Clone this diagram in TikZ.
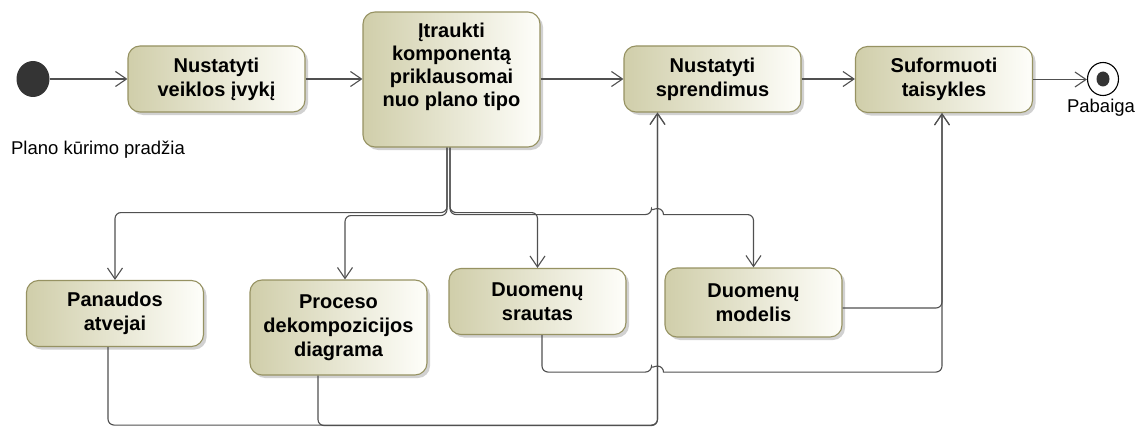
\documentclass[tikz,border=0pt]{standalone}
\usepackage{fontspec}
\setmainfont{Liberation Sans}
\usetikzlibrary{arrows.meta,shapes.geometric,shadows,calc}

\definecolor{boxL}{RGB}{208,206,170}
\definecolor{boxR}{RGB}{254,254,250}
\definecolor{boxline}{RGB}{150,146,98}
\definecolor{flowc}{RGB}{80,80,80}
\definecolor{dotc}{RGB}{52,52,52}

\tikzset{
  actbox/.style={rectangle, rounded corners=12pt, draw=boxline, line width=1.1pt,
    left color=boxL, right color=boxR, minimum width=177pt, minimum height=66pt,
    inner sep=0pt, align=center, font=\fontsize{20}{24}\selectfont\bfseries,
    drop shadow={shadow xshift=3pt, shadow yshift=-3pt, fill=black!30, opacity=0.6}},
  flow/.style={draw=flowc, line width=1.1pt, rounded corners=6pt,
    -{Straight Barb[length=11pt,width=15pt,line width=1.1pt]}},
  lbl/.style={font=\fontsize{18.5}{22}\selectfont, inner sep=0pt},
  startnode/.style={ellipse, fill=dotc, minimum width=33pt, minimum height=36pt, inner sep=0pt},
  endnode/.style={ellipse, draw=black, line width=1.1pt, fill=white,
    minimum width=31pt, minimum height=33pt, inner sep=0pt,
    path picture={\fill[dotc] (path picture bounding box.center) ellipse[x radius=6.5pt,y radius=7.5pt];}},
}

\begin{document}
\begin{tikzpicture}[x=1pt,y=-1pt]
\useasboundingbox (0,0) rectangle (1144,428);

% top row
\node[startnode] (st) at (33,79) {};
\node[lbl] (stl) at (98,150) {Plano kūrimo pradžia};
\node[actbox] (b1) at (216.5,79) {Nustatyti\\veiklos įvykį};
\node[actbox, minimum height=135pt, font=\fontsize{20}{23}\selectfont\bfseries] (b2) at (451.5,79.5)
  {Įtraukti\\komponentą\\priklausomai\\nuo plano tipo\\[6pt]\mbox{}};
\node[actbox] (b3) at (712.5,79) {Nustatyti\\sprendimus};
\node[actbox] (b4) at (944,79.5) {Suformuoti\\taisykles};
\node[endnode] (en) at (1103,79) {};
\node[lbl] (enl) at (1101,108) {Pabaiga};

% bottom row
\node[actbox] (pan) at (115,313.5) {Panaudos\\atvejai};
\node[actbox, minimum height=95pt] (proc) at (338.5,327.5) {Proceso\\dekompozicijos\\diagrama};
\node[actbox] (sr) at (537.5,301.5) {Duomenų\\srautas};
\node[actbox, minimum height=69pt] (mod) at (753.5,302.5) {Duomenų\\modelis};

% joins under the target actions
\coordinate (j3) at ([xshift=-55pt]b3.south);
\coordinate (j4) at ([xshift=-2pt]b4.south);

% main sequence
\draw[flow] (st) -- (b1);
\draw[flow] (b1.east) -- (b1.east -| b2.west);
\draw[flow] (b3.west -| b2.east) -- (b3.west);
\draw[flow] (b3.east) -- (b3.east -| b4.west);
\draw[flow] (b4.east) -- (b4.east -| en.west);

% fork from the component step
\draw[flow] ([xshift=-4.5pt]b2.south) -- ++(0,65) -| (pan.north);
\draw[flow] ([xshift=-4.5pt]b2.south) -- ++(0,68) -| ([xshift=6.5pt]proc.north);
\draw[flow] ([xshift=-1.5pt]b2.south) -- ++(0,65) -| (sr.north);
\draw[flow] ([xshift=-1.5pt]b2.south) -- ++(0,67) coordinate (m1)
  -- ($(j3 |- m1)+(-6,0)$) [sharp corners] arc[start angle=180,end angle=0,radius=6pt]
  [rounded corners=6pt] -| (mod.north);

% results feeding the decision and rule steps
\draw[flow] ([xshift=-7pt]pan.south) -- ++(0,78) -| (j3);
\draw[flow] ([xshift=-20.5pt]proc.south) -- ++(0,50) -| (j3);
\draw[flow] ([xshift=4.5pt]sr.south) -- ++(0,37) coordinate (s1)
  -- ($(j3 |- s1)+(-6,0)$) [sharp corners] arc[start angle=180,end angle=0,radius=6pt]
  [rounded corners=6pt] -| (j4);
\draw[flow] ([yshift=-5.5pt]mod.east) -| (j4);
\end{tikzpicture}
\end{document}
